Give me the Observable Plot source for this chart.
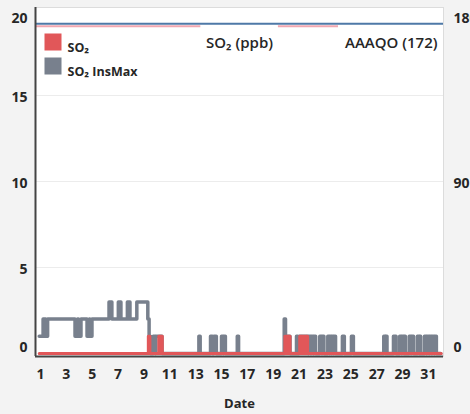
<!DOCTYPE html>
<html>
<head>
<meta charset="utf-8">
<script src="https://cdn.jsdelivr.net/npm/d3@7"></script>
<script src="https://cdn.jsdelivr.net/npm/@observablehq/plot@0.6"></script>
<style>
  html, body { margin: 0; padding: 0; background: #f3f3f3; }
  #chart { width: 470px; height: 414px; }
</style>
</head>
<body>
<div id="chart"></div>
<script>
// ---- data (hourly readings shown as step change points) ----
// SO2 InsMax (ppb): change points (day of month) and the value from that point on
const grayDays = [
  0.9, 1.2, 1.4, 1.55,
  3.67, 3.87, 3.93, 4.13,
  4.6, 4.78, 4.82, 4.98,
  6.3, 6.52, 7.02, 7.22, 7.72, 7.92, 8.45, 9.3, 9.4, 9.5, 9.72, 9.88, 9.92, 10.4,
  13.25, 13.35,
  14.15, 14.3, 14.4, 14.6,
  15.0, 15.13, 15.17, 15.3,
  16.22, 16.32,
  19.85, 19.95, 20.3,
  20.8, 20.9, 21.0, 21.7, 21.74, 21.9, 21.94, 22.1, 22.14, 22.28,
  22.6, 22.75, 22.79, 22.92,
  23.22, 23.35, 23.39, 23.5, 23.54, 23.66, 23.7, 23.82,
  24.35, 24.5, 25.05, 25.2,
  27.55, 27.68, 27.7, 27.8,
  28.3, 28.5,
  28.78, 28.92, 28.96, 29.1, 29.13, 29.22,
  29.52, 29.65, 29.69, 29.85,
  30.15, 30.28, 30.31, 30.4,
  30.7, 30.85, 30.89, 31.05, 31.09, 31.25, 31.29, 31.45, 31.49, 31.62, 31.95
];
const grayValues = [
  1, 2, 1, 2,
  1, 2, 1, 2,
  1, 2, 1, 2,
  3, 2, 3, 2, 3, 2, 3, 2, 1, 0, 1, 0, 1, 0,
  1, 0,
  1, 0, 1, 0,
  1, 0, 1, 0,
  1, 0,
  2, 1, 0,
  1, 0, 1, 0, 1, 0, 1, 0, 1, 0,
  1, 0, 1, 0,
  1, 0, 1, 0, 1, 0, 1, 0,
  1, 0, 1, 0,
  1, 0, 1, 0,
  1, 0,
  1, 0, 1, 0, 1, 0,
  1, 0, 1, 0,
  1, 0, 1, 0,
  1, 0, 1, 0, 1, 0, 1, 0, 1, 0, 0
];
// SO2 (ppb): change points
const redDays   = [0.9, 9.34, 9.46, 10.15, 10.28, 10.31, 10.42, 19.9, 20.05, 20.09, 20.18, 20.21, 20.3, 21.05, 21.2, 21.24, 21.38, 21.42, 21.55, 21.58, 21.66, 32.0];
const redValues = [0,   1,    0,    1,     0,     1,     0,     1,    0,     1,     0,     1,     0,    1,     0,    1,     0,     1,     0,     1,     0,     0];
// AAAQO objective (ppb, right axis) and the pink reference-line pieces under it (days)
const aaaqo = 172;
const aaaqoPinkStart = [0.613, 19.4];
const aaaqoPinkEnd   = [13.4, 24.05];
// axes
const leftTicks  = [0, 5, 10, 15, 20];
const rightMax   = 180;   // right axis 0..180 aligned with left 0..20
const leftMax    = 20;
const dayTicks   = [1, 3, 5, 7, 9, 11, 13, 15, 17, 19, 21, 23, 25, 27, 29, 31];
const seriesNames = ["SO₂", "SO₂ InsMax"];
const seriesColors = ["#e15759", "#78808d"];

// ---- build tables ----
const gray = grayDays.map((d, i) => ({day: d, value: grayValues[i]}));
const red  = redDays.map((d, i) => ({day: d, value: redValues[i]}));
const pink = aaaqoPinkStart.map((s, i) => ({x1: s, x2: aaaqoPinkEnd[i]}));
const ratio = rightMax / leftMax;

const xDomain = [0.613, 32.17];
const yDomain = [-0.174, 20.116];
const font = "'Open Sans', 'DejaVu Sans', sans-serif";
const ink = "#262626";

const axisStyle = {tickSize: 0, fontSize: 14, fontWeight: 700, fill: ink, label: null};

const chart = Plot.plot({
  width: 470,
  height: 414,
  marginLeft: 35,
  marginRight: 27,
  marginTop: 7,
  marginBottom: 58,
  style: {background: "#f3f3f3", fontFamily: font, color: ink},
  x: {domain: xDomain},
  y: {domain: yDomain},
  marks: [
    Plot.frame({fill: "white", stroke: "#dcdcdc"}),
    Plot.gridY([5, 10, 15], {stroke: "#ececec", strokeOpacity: 1}),
    // AAAQO line
    Plot.ruleY(pink, {x1: "x1", x2: "x2", y: () => aaaqo / ratio, dy: 1.5, stroke: "#f1a7b0", strokeWidth: 2}),
    Plot.ruleY([aaaqo / ratio], {stroke: "#4e79a7", strokeWidth: 2, dy: -1}),
    // series
    Plot.line(gray, {x: "day", y: "value", curve: "step-after", stroke: seriesColors[1], strokeWidth: 3.5, strokeLinejoin: "round", strokeLinecap: "round"}),
    Plot.line(red, {x: "day", y: "value", curve: "step-after", stroke: seriesColors[0], strokeWidth: 3, strokeLinejoin: "round"}),
    // axis lines
    Plot.ruleX([xDomain[0]], {stroke: "#444", strokeWidth: 2}),
    Plot.ruleY([yDomain[0]], {stroke: "#444", strokeWidth: 2}),
    // left axis labels (end labels pulled inside like the reference)
    Plot.axisY([5, 10, 15], {...axisStyle, anchor: "left", tickPadding: 8, dy: 2}),
    Plot.axisY([leftTicks[4]], {...axisStyle, anchor: "left", tickPadding: 8, dy: 9}),
    Plot.axisY([leftTicks[0]], {...axisStyle, anchor: "left", tickPadding: 8, dy: -6}),
    // right axis labels
    Plot.axisY([10], {...axisStyle, anchor: "right", tickPadding: 10, dy: 2, tickFormat: d => d * ratio}),
    Plot.axisY([leftTicks[4]], {...axisStyle, anchor: "right", tickPadding: 10, dy: 9, tickFormat: d => d * ratio}),
    Plot.axisY([leftTicks[0]], {...axisStyle, anchor: "right", tickPadding: 10, dy: -6, tickFormat: d => d * ratio}),
    // x axis
    Plot.axisX(dayTicks, {...axisStyle, anchor: "bottom", tickPadding: 13}),
    Plot.text(["Date"], {frameAnchor: "bottom", dy: 51, fontSize: 13, fontWeight: 700, fill: ink}),
    // titles inside plot
    Plot.text(["SO₂ (ppb)"], {frameAnchor: "top", dy: 30, fontSize: 15, fontWeight: 600, fill: ink}),
    Plot.text([`AAAQO (${aaaqo})`], {frameAnchor: "top-right", dx: -6, dy: 30, textAnchor: "end", fontSize: 15, fontWeight: 600, fill: ink}),
    // legend
    Plot.dot([0], {frameAnchor: "top-left", dx: 17.5, dy: 34.5, symbol: "square", r: 9.6, fill: seriesColors[0], stroke: null}),
    Plot.dot([1], {frameAnchor: "top-left", dx: 17.5, dy: 58.5, symbol: "square", r: 9.6, fill: seriesColors[1], stroke: null}),
    Plot.text([seriesNames[0]], {frameAnchor: "top-left", dx: 32, dy: 35.5, textAnchor: "start", fontSize: 12.5, fontWeight: 700, fill: ink}),
    Plot.text([seriesNames[1]], {frameAnchor: "top-left", dx: 32, dy: 59.5, textAnchor: "start", fontSize: 12.5, fontWeight: 700, fill: ink})
  ]
});
document.getElementById("chart").appendChild(chart);
</script>
</body>
</html>
